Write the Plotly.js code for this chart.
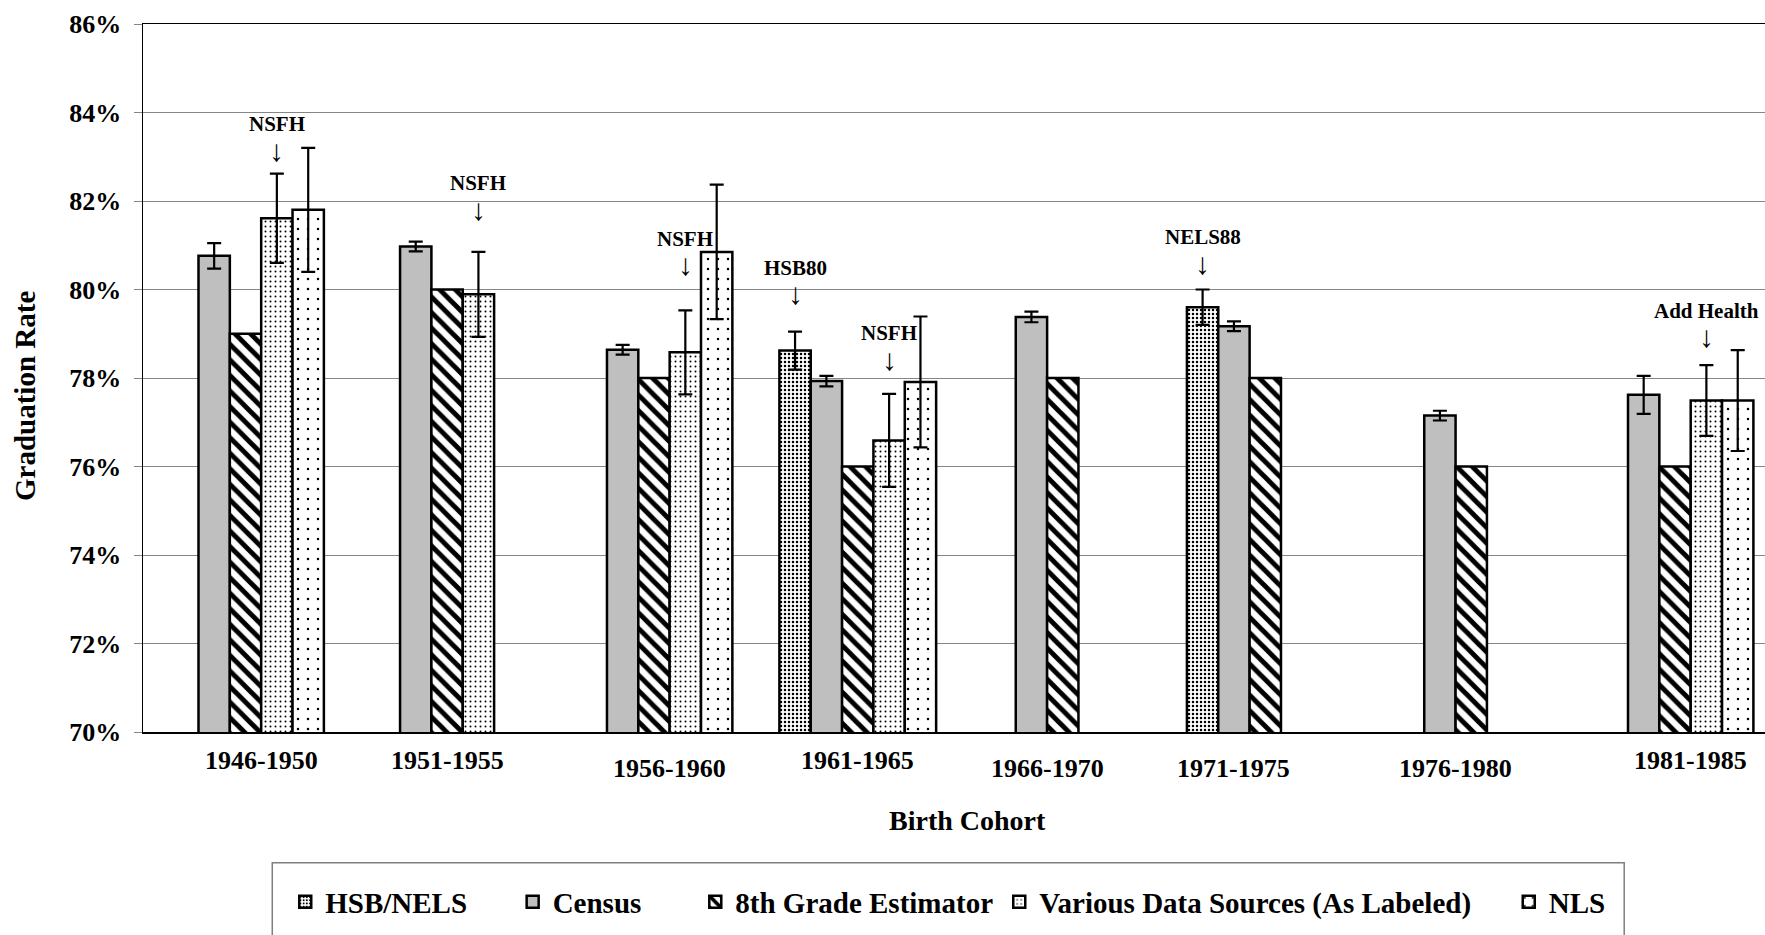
<!DOCTYPE html>
<html>
<head>
<meta charset="utf-8">
<script src="https://cdn.plot.ly/plotly-3.0.1.min.js"></script>
<style>
html,body{margin:0;padding:0;background:#ffffff;}
#chart{width:1765px;height:935px;}
</style>
</head>
<body>
<div id="chart"></div>
<script>
// ---------------- DATA ----------------
const cohorts = ['1946-1950','1951-1955','1956-1960','1961-1965','1966-1970','1971-1975','1976-1980','1981-1985'];

const hsbNels      = [null, null, null, 78.62, null, 79.60, null, null];
const hsbNelsErr   = [null, null, null, 0.43,  null, 0.40,  null, null];
const hsbNelsSrc   = [null, null, null, 'HSB80', null, 'NELS88', null, null];

const census       = [80.76, 80.97, 78.64, 77.93, 79.38, 79.17, 77.15, 77.62];
const censusErr    = [0.29,  0.11,  0.11,  0.12,  0.12,  0.11,  0.11,  0.43];

const eighthGrade  = [79.0, 80.0, 78.0, 76.0, 78.0, 78.0, 76.0, 76.0];

const various      = [81.61, 79.89, 78.58, 76.59, null, null, null, 77.49];
const variousErr   = [1.01,  0.96,  0.95,  1.05,  null, null, null, 0.80];
const variousSrc   = ['NSFH', 'NSFH', 'NSFH', 'NSFH', null, null, null, 'Add Health'];

const nls          = [81.80, null, 80.85, 77.91, null, null, null, 77.49];
const nlsErr       = [1.40,  null, 1.52,  1.48,  null, null, null, 1.14];

const seriesNames  = ['HSB/NELS', 'Census', '8th Grade Estimator', 'Various Data Sources (As Labeled)', 'NLS'];
const xTitle = 'Birth Cohort';
const yTitle = 'Graduation Rate';

// ---------------- LAYOUT HELPERS (positions / styles) ----------------
const FONT = 'Liberation Serif, Times New Roman, serif';
const groupGap = [1.77, 2.43, 3.60, 1.50, 2.54, 3.46, 4.57, 4.50];     // empty space before each cohort, in bar widths
const labelDrop = [28, 28, 36, 28, 36, 36, 36, 28];                    // cohort label offset below axis (px)
const hsbLabelY = [null, null, null, 80.49, null, 81.18, null, null];   // source label heights
const variousLabelY = [83.74, 82.40, 81.15, 79.01, null, null, null, 79.52];
const legendX = [0.0877, 0.2279, 0.3405, 0.5279, 0.8420];

const series = [
  {values: hsbNels, err: hsbNelsErr, color: '#ffffff',
   pattern: {shape: '.', fgcolor: '#000000', bgcolor: '#ffffff', size: 4, solidity: 0.3}},
  {values: census, err: censusErr, color: '#bfbfbf', pattern: null},
  {values: eighthGrade, err: null, color: '#ffffff',
   pattern: {shape: '\\', fgcolor: '#000000', bgcolor: '#ffffff', size: 11, solidity: 0.45}},
  {values: various, err: variousErr, color: '#ffffff',
   pattern: {shape: '.', fgcolor: '#000000', bgcolor: '#ffffff', size: 5, solidity: 0.12}},
  {values: nls, err: nlsErr, color: '#ffffff',
   pattern: {shape: '.', fgcolor: '#000000', bgcolor: '#ffffff', size: 10, solidity: 0.05}}
];

// slot positions: bars of a cohort sit side by side in series order, skipping missing series
const xPos = series.map(() => cohorts.map(() => null));
const groupCenter = [];
let cursor = 0;
cohorts.forEach((c, i) => {
  cursor += groupGap[i];
  const start = cursor;
  series.forEach((s, k) => {
    if (s.values[i] !== null) { xPos[k][i] = cursor + 0.5; cursor += 1; }
  });
  groupCenter.push((start + cursor) / 2);
});

const traces = series.map((s, k) => {
  const xs = [], ys = [], es = [];
  cohorts.forEach((c, i) => {
    if (s.values[i] !== null) {
      xs.push(xPos[k][i]); ys.push(s.values[i]);
      es.push(s.err ? s.err[i] : 0);
    }
  });
  const marker = {color: s.color, line: {color: '#000000', width: 2.5}};
  if (s.pattern) marker.pattern = s.pattern;
  const t = {
    type: 'bar', name: seriesNames[k], x: xs, y: ys, width: 1,
    marker: marker,
    legend: k === 0 ? 'legend' : 'legend' + (k + 1),
    hoverinfo: 'name+y'
  };
  if (s.err) {
    t.error_y = {type: 'data', array: es, visible: true, color: '#000000', thickness: 2.2, width: 7};
  }
  return t;
});

// ---------------- ANNOTATIONS ----------------
const annotations = [];
cohorts.forEach((c, i) => {
  annotations.push({
    xref: 'x', yref: 'paper', x: groupCenter[i], y: 0, yanchor: 'middle', xanchor: 'center',
    yshift: -labelDrop[i], showarrow: false, text: c,
    font: {family: FONT, size: 26, color: '#000000', weight: 'bold'}
  });
});
function addSource(k, srcArr, yArr) {
  cohorts.forEach((c, i) => {
    if (srcArr[i]) {
      annotations.push({
        xref: 'x', yref: 'y', x: xPos[k][i], y: yArr[i], yanchor: 'middle', xanchor: 'center',
        showarrow: false, text: srcArr[i],
        font: {family: FONT, size: 21, color: '#000000', weight: 'bold'}
      });
      annotations.push({
        xref: 'x', yref: 'y', x: xPos[k][i], y: yArr[i], yanchor: 'middle', xanchor: 'center',
        yshift: -26, showarrow: false, text: '↓',
        font: {family: FONT, size: 30, color: '#000000'}
      });
    }
  });
}
addSource(0, hsbNelsSrc, hsbLabelY);
addSource(3, variousSrc, variousLabelY);

// axis titles placed as annotations for exact positioning
annotations.push({
  xref: 'paper', yref: 'paper', x: (967 - 143) / 1622, y: (732 - 820) / 708,
  xanchor: 'center', yanchor: 'middle', showarrow: false, text: xTitle,
  font: {family: FONT, size: 28, color: '#000000', weight: 'bold'}
});
annotations.push({
  xref: 'paper', yref: 'paper', x: (25 - 143) / 1622, y: (732 - 396) / 708,
  xanchor: 'center', yanchor: 'middle', showarrow: false, text: yTitle, textangle: -90,
  font: {family: FONT, size: 29, color: '#000000', weight: 'bold'}
});

const layout = {
  width: 1765, height: 935,
  margin: {l: 143, r: 0, t: 24, b: 203, pad: 0},
  paper_bgcolor: '#ffffff', plot_bgcolor: '#ffffff',
  barmode: 'overlay',
  showlegend: true,
  font: {family: FONT, color: '#000000'},
  xaxis: {
    range: [0, 51.74], showgrid: false, zeroline: false, showticklabels: false, ticks: '',
    showline: true, linecolor: '#000000', linewidth: 1.5, mirror: true, automargin: false
  },
  yaxis: {
    range: [70, 86], tick0: 70, dtick: 2, ticksuffix: '%',
    tickfont: {family: FONT, size: 26, color: '#000000', weight: 'bold'},
    ticks: 'outside', ticklen: 8, tickcolor: '#868686', tickwidth: 1, ticklabelstandoff: 7,
    showgrid: true, gridcolor: '#868686', gridwidth: 1, zeroline: false,
    showline: true, linecolor: '#000000', linewidth: 1.5, automargin: false
  },
  annotations: annotations,
  shapes: [{
    type: 'rect', xref: 'paper', yref: 'paper', x0: 0.0797, x1: 0.9132, y0: -0.1846, y1: -0.33,
    line: {color: '#7f7f7f', width: 1.5}, fillcolor: 'rgba(0,0,0,0)', layer: 'above'
  }]
};
legendX.forEach((x, k) => {
  layout[k === 0 ? 'legend' : 'legend' + (k + 1)] = {
    x: x, y: -0.2401, xanchor: 'left', yanchor: 'middle', orientation: 'h',
    bgcolor: 'rgba(0,0,0,0)', borderwidth: 0,
    font: {family: FONT, size: 29, color: '#000000', weight: 'bold'}
  };
});

Plotly.newPlot('chart', traces, layout, {displayModeBar: false, staticPlot: true});
</script>
</body>
</html>
